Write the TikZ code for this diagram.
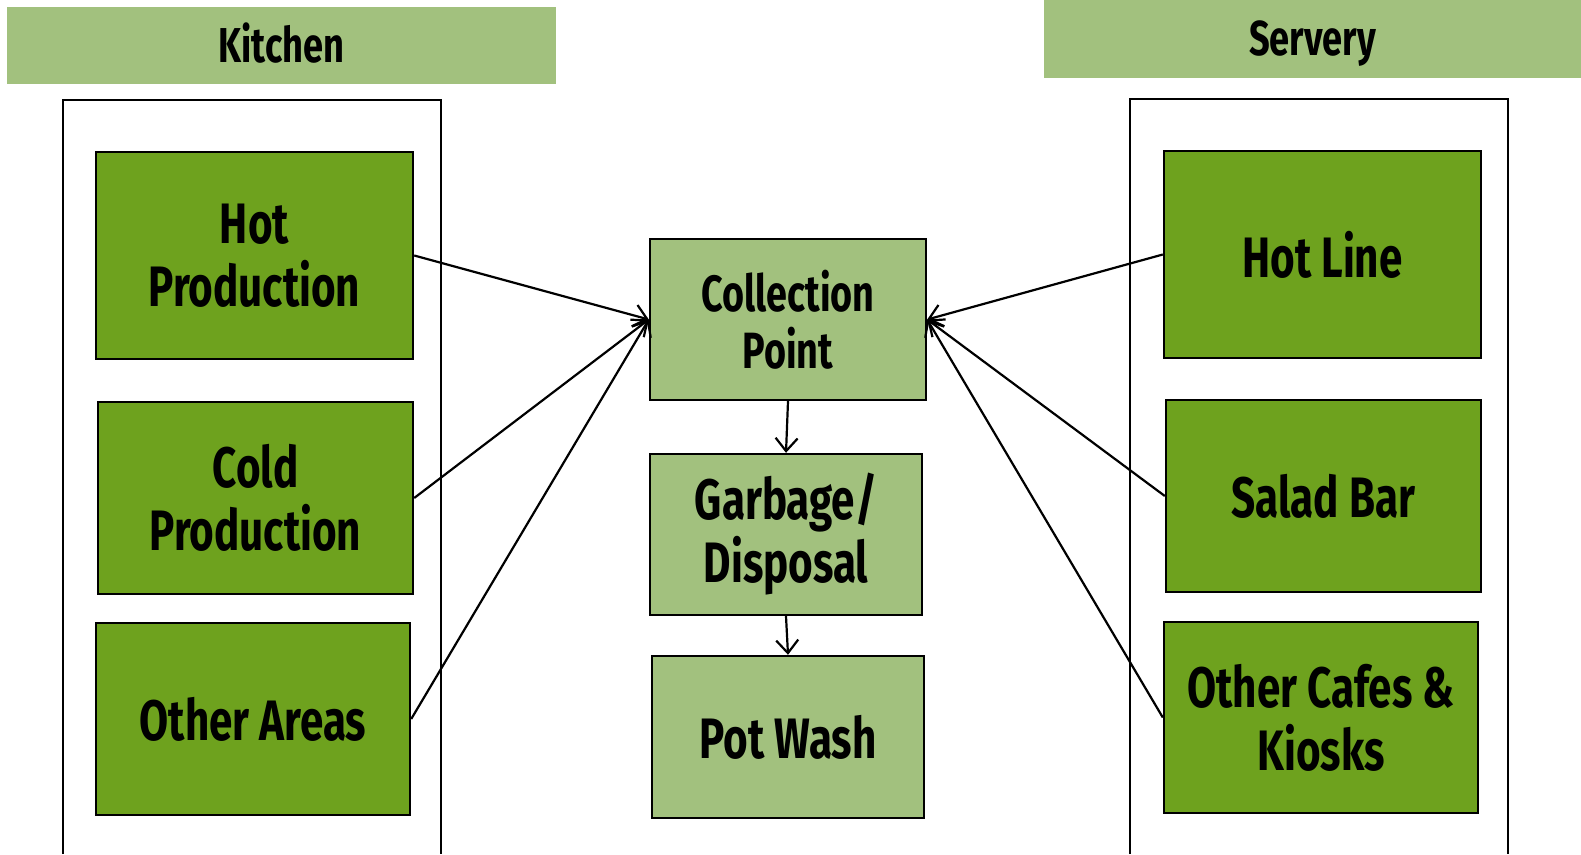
\documentclass[tikz,border=0pt]{standalone}
\usepackage{fontspec}
\setmainfont{Fira Sans}[FakeStretch=0.74]
\usetikzlibrary{arrows.meta}
\definecolor{boxgreen}{HTML}{6EA21E}
\definecolor{bannergreen}{HTML}{A2C17E}
\tikzset{
	banner/.style={fill=bannergreen, inner sep=0pt, text height=33pt, text depth=0pt, font=\fontsize{49}{52}\selectfont\bfseries},
	area/.style={draw, line width=2.4pt, fill=boxgreen, inner sep=0pt, align=center, font=\fontsize{57}{63}\selectfont\bfseries},
	stage/.style={area, fill=bannergreen},
	flow/.style={line width=2.2pt, -{Straight Barb[length=13pt, width=22pt, line width=2.2pt]}}
}
\begin{document}
\begin{tikzpicture}[x=1pt, y=-1pt]
				\useasboundingbox (0,0) rectangle (1581,854);
				\node[banner, minimum width=549, minimum height=77] (kitchen) at (281.5, 45.5) {Kitchen};
				\node[banner, minimum width=537, minimum height=78] (servery) at (1312.5, 39) {Servery};
				\draw[line width=2.4pt] (63, 854) -- (63, 100) -- (441, 100) -- (441, 854);
				\draw[line width=2.4pt] (1130, 854) -- (1130, 99) -- (1508, 99) -- (1508, 854);
				\node[area, minimum width=317, minimum height=207] (hotprod) at (254.5, 255.5) {Hot\\Production};
				\node[area, minimum width=315, minimum height=192] (coldprod) at (255.5, 498) {Cold\\Production};
				\node[area, minimum width=314, minimum height=192] (otherareas) at (253, 719) {Other Areas};
				\node[stage, minimum width=276, minimum height=161, font=\fontsize{51}{57}\selectfont\bfseries] (collect) at (788, 319.5) {Collection\\Point};
				\node[stage, minimum width=272, minimum height=161] (garbage) at (786, 534.5) {Garbage/\\Disposal};
				\node[stage, minimum width=272, minimum height=162] (potwash) at (788, 737) {Pot Wash};
				\node[area, minimum width=317, minimum height=207] (hotline) at (1322.5, 254.5) {Hot Line};
				\node[area, minimum width=315, minimum height=192] (saladbar) at (1323.5, 496) {Salad Bar};
				\node[area, minimum width=314, minimum height=191] (cafes) at (1321, 717.5) {Other Cafes \&\\Kiosks};
				\draw[flow] (hotprod.east) -- (collect.west);
				\draw[flow] (coldprod.east) -- (collect.west);
				\draw[flow] (otherareas.east) -- (collect.west);
				\draw[flow] (hotline.west) -- (collect.east);
				\draw[flow] (saladbar.west) -- (collect.east);
				\draw[flow] (cafes.west) -- (collect.east);
				\draw[flow] (collect.south) -- (garbage.north);
				\draw[flow] (garbage.south) -- (potwash.north);
			\end{tikzpicture}
\end{document}
